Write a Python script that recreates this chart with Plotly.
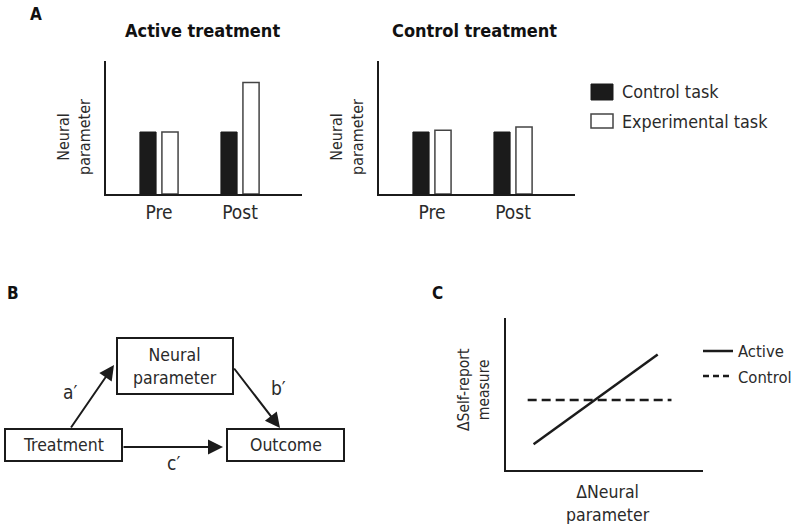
import plotly.graph_objects as go

# Panel A data
phases = ["Pre", "Post"]
active_control_task = [1.0, 1.0]
active_experimental_task = [1.0, 1.8]
control_control_task = [1.0, 1.0]
control_experimental_task = [1.03, 1.08]

# Panel C data
active_x = [1.4, 7.7]
active_y = [1.7, 7.6]
control_x = [1.1, 8.4]
control_y = [4.6, 4.6]

W, H = 796, 524
FONT = "DejaVu Sans Condensed, Liberation Sans Narrow, sans-serif"
TXT = "#2a2a2a"


def X(px):
    return px / W


def Y(py):
    return 1 - py / H


fig = go.Figure()

black_bar = dict(color="#1b1b1b", line=dict(color="#1b1b1b", width=1))
white_bar = dict(color="white", line=dict(color="#444444", width=1.5))

fig.add_trace(go.Bar(x=phases, y=active_control_task, marker=black_bar,
                     name="Control task", showlegend=False, xaxis="x", yaxis="y"))
fig.add_trace(go.Bar(x=phases, y=active_experimental_task, marker=white_bar,
                     name="Experimental task", showlegend=False, xaxis="x", yaxis="y"))
fig.add_trace(go.Bar(x=phases, y=control_control_task, marker=black_bar,
                     showlegend=False, xaxis="x2", yaxis="y2"))
fig.add_trace(go.Bar(x=phases, y=control_experimental_task, marker=white_bar,
                     showlegend=False, xaxis="x2", yaxis="y2"))

fig.add_trace(go.Scatter(x=active_x, y=active_y, mode="lines", showlegend=False,
                         line=dict(color="#1b1b1b", width=2.5), xaxis="x3", yaxis="y3"))
fig.add_trace(go.Scatter(x=control_x, y=control_y, mode="lines", showlegend=False,
                         line=dict(color="#1b1b1b", width=2.5, dash="9px,5px"),
                         xaxis="x3", yaxis="y3"))

cat_x = dict(type="category", range=[-0.654, 1.765], showline=True, linewidth=2,
             linecolor="#1b1b1b", showgrid=False, zeroline=False, ticks="",
             tickfont=dict(family=FONT, size=19, color=TXT), fixedrange=True)
bar_y = dict(range=[0, 2.145], showline=True, linewidth=2, linecolor="#1b1b1b",
             showgrid=False, zeroline=False, showticklabels=False, ticks="")
line_ax = dict(range=[0, 10], showline=True, linewidth=2, linecolor="#1b1b1b",
               showgrid=False, zeroline=False, showticklabels=False, ticks="")

fig.update_layout(
    width=W, height=H,
    margin=dict(l=0, r=0, t=0, b=0),
    paper_bgcolor="white", plot_bgcolor="white",
    barmode="group", bargap=0.457, bargroupgap=0.265,
    font=dict(family=FONT, color=TXT),
    xaxis=dict(domain=[X(106), X(302)], anchor="y", **cat_x),
    yaxis=dict(domain=[Y(194), Y(61)], anchor="x", **bar_y),
    xaxis2=dict(domain=[X(379), X(575)], anchor="y2", **cat_x),
    yaxis2=dict(domain=[Y(194), Y(61)], anchor="x2", **bar_y),
    xaxis3=dict(domain=[X(506), X(703)], anchor="y3", **line_ax),
    yaxis3=dict(domain=[Y(470), Y(318)], anchor="x3", **line_ax),
)

shapes = []
ann = []


def text(px, py, s, size=18, bold=False, xanchor="center", angle=0):
    ann.append(dict(x=X(px), y=Y(py), xref="paper", yref="paper", text=s,
                    showarrow=False, xanchor=xanchor, yanchor="middle", textangle=angle,
                    font=dict(family=FONT, size=size, color="#111" if bold else TXT,
                              weight="bold" if bold else "normal")))


# Panel letters and titles
text(36, 14, "A", size=17, bold=True)
text(5, 293, "B", size=17, bold=True, xanchor="left")
text(437, 293, "C", size=17, bold=True)
text(202, 30, "Active treatment", size=18, bold=True)
text(474, 30, "Control treatment", size=18, bold=True)

# Axis titles
text(74, 137, "Neural<br>parameter", size=16, angle=-90)
text(347, 137, "Neural<br>parameter", size=16, angle=-90)
text(474, 390, "ΔSelf-report<br>measure", size=15.5, angle=-90)
text(608, 503, "ΔNeural<br>parameter", size=17.5)

# Legend panel A
shapes.append(dict(type="rect", xref="paper", yref="paper", x0=X(591), x1=X(613),
                   y0=Y(100), y1=Y(84), fillcolor="#1b1b1b", line=dict(color="#1b1b1b", width=1)))
shapes.append(dict(type="rect", xref="paper", yref="paper", x0=X(591), x1=X(613),
                   y0=Y(128), y1=Y(114), fillcolor="white", line=dict(color="#444", width=1.5)))
text(620, 92, "Control task", size=17.8, xanchor="left")
text(620, 121, "Experimental task", size=17.8, xanchor="left")

# Legend panel C
shapes.append(dict(type="line", xref="paper", yref="paper", x0=X(703), x1=X(733),
                   y0=Y(351), y1=Y(351), line=dict(color="#1b1b1b", width=2.5)))
shapes.append(dict(type="line", xref="paper", yref="paper", x0=X(703), x1=X(733),
                   y0=Y(376), y1=Y(376), line=dict(color="#1b1b1b", width=2.5, dash="6px,4px")))
text(736, 351, "Active", size=16.5, xanchor="left")
text(736, 377, "Control", size=16.5, xanchor="left")

# Panel B: mediation diagram
boxes = {
    "Neural<br>parameter": (117, 338, 233, 394),
    "Treatment": (5, 429, 122, 461),
    "Outcome": (227, 429, 344, 461),
}
for label, (x0, y0, x1, y1) in boxes.items():
    shapes.append(dict(type="rect", xref="paper", yref="paper", x0=X(x0), x1=X(x1),
                       y0=Y(y1), y1=Y(y0), line=dict(color="#1b1b1b", width=2),
                       fillcolor="rgba(0,0,0,0)"))
    text((x0 + x1) / 2, (y0 + y1) / 2, label, size=17.5)

arrows = [((70, 429), (114, 365)), ((233, 367), (280, 428)), ((122, 447), (223, 447))]
for (tx, ty), (hx, hy) in arrows:
    ann.append(dict(x=X(hx), y=Y(hy), xref="paper", yref="paper", ax=tx - hx, ay=ty - hy,
                    axref="pixel", ayref="pixel", text="", showarrow=True,
                    arrowhead=2, arrowsize=1.5, arrowwidth=2, arrowcolor="#1b1b1b"))
text(70, 392, "a′", size=19)
text(278, 388, "b′", size=19)
text(173, 463, "c′", size=19)

fig.update_layout(shapes=shapes, annotations=ann)
fig.write_html("out.html", config={"displayModeBar": False},
               post_script="document.body.style.margin='0';")
